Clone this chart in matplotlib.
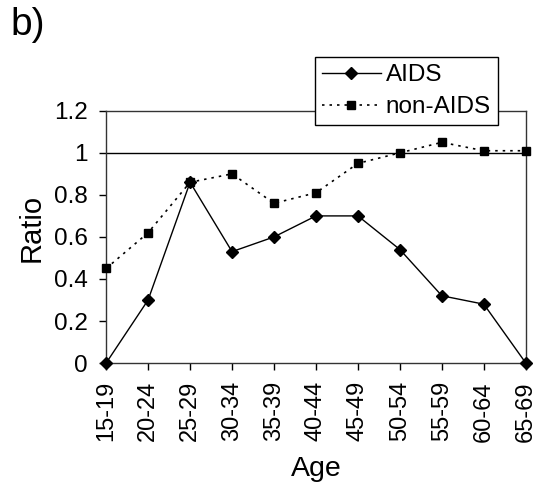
#!/usr/bin/env python3

import matplotlib
matplotlib.use('Agg')
import matplotlib.pyplot as plt
import numpy as np

plt.rcParams['font.family'] = ['Liberation Sans', 'DejaVu Sans']

age_groups = ['15-19', '20-24', '25-29', '30-34', '35-39', '40-44',
	'45-49', '50-54', '55-59', '60-64', '65-69']
aids = [0, 0.30, 0.86, 0.53, 0.60, 0.70, 0.70, 0.54, 0.32, 0.28, 0]
non_aids = [0.45, 0.62, 0.86, 0.90, 0.76, 0.81, 0.95, 1.00, 1.05, 1.01, 1.01]
yticks = [0, 0.2, 0.4, 0.6, 0.8, 1, 1.2]
ytick_labels = ['0', '0.2', '0.4', '0.6', '0.8', '1', '1.2']

fig = plt.figure(figsize=(5.36, 4.86), dpi=100)
ax = fig.add_axes([0.198, 0.253, 0.783, 0.519])

x = np.arange(len(age_groups))

ax.axhline(1, color='black', lw=1, zorder=1)
ax.plot(x, aids, 'k-', marker='D', markersize=6.5, lw=1, label='AIDS', clip_on=False, zorder=3)
ax.plot(x, non_aids, 'k', linestyle=(0, (1.5, 3)), marker='s', markersize=6, lw=1.2,
	label='non-AIDS', clip_on=False, zorder=3)

ax.set_xlim(0, len(age_groups) - 1)
ax.set_ylim(0, 1.2)
ax.set_xticks(x)
ax.set_xticklabels(age_groups, rotation=90, fontsize=17)
ax.set_yticks(yticks)
ax.set_yticklabels(ytick_labels, fontsize=17.5)
ax.tick_params(direction='out', length=5, width=1, pad=8)

for s in ax.spines.values():
	s.set_linewidth(1)
	s.set_color('#333333')

ax.set_ylabel('Ratio', fontsize=21)
ax.yaxis.set_label_coords(-0.145, 0.535)
ax.set_xlabel('Age', fontsize=20.5)
ax.xaxis.set_label_coords(0.5, -0.37)

leg = fig.legend(loc='upper left', bbox_to_anchor=(315 / 536, 1 - 57 / 486),
	fontsize=17.5, numpoints=1, handlelength=2.4, fancybox=False, framealpha=1,
	edgecolor='black', borderaxespad=0, borderpad=0.3, labelspacing=0.4,
	handletextpad=0.2)
leg.get_frame().set_linewidth(1)

fig.text(0.02, 0.985, 'b)', fontsize=28, va='top', ha='left')

fig.savefig('out.png', dpi=100)
